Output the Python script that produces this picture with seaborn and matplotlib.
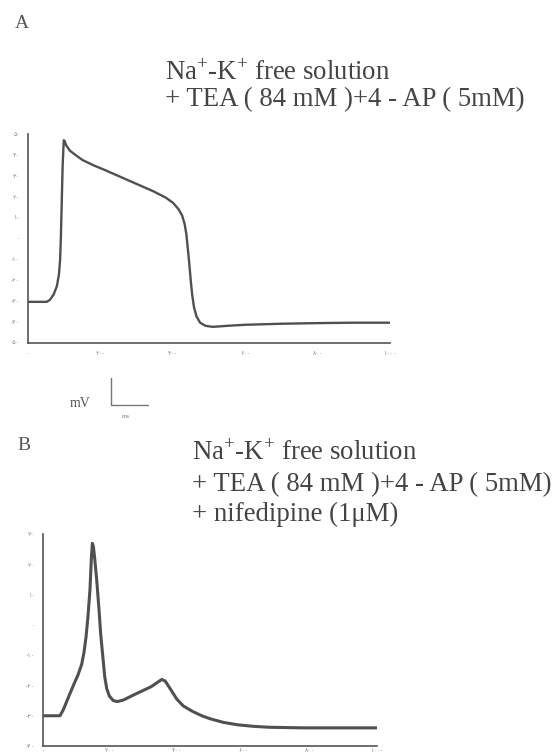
import matplotlib
matplotlib.use("Agg")
import matplotlib.pyplot as plt
from matplotlib.lines import Line2D
import seaborn as sns

# Panel A: Na-K free solution + TEA + 4-AP (time in ms, potential in mV)
time_a = [0, 20, 40, 51, 60, 70, 79, 85, 88, 90, 92, 95, 98, 100, 105, 115,
          130, 150, 180, 208, 254, 300, 346, 380, 400, 415, 425, 432, 437,
          441, 445, 449, 453, 458, 465, 475, 490, 510, 550, 600, 700, 800,
          900, 1000]
volt_a = [-30.5, -30.5, -30.5, -30.5, -29.5, -27, -23, -17, -10, 0, 14, 35,
          47, 46.8, 44.5, 42, 40, 37.5, 35, 33, 29.5, 26, 22.5, 19.5, 17, 14,
          11, 7, 2, -5, -12, -20, -27, -33, -37.5, -40.5, -42, -42.5, -42,
          -41.5, -41, -40.7, -40.5, -40.5]

# Panel B: same + nifedipine
time_b = [0, 25, 50, 60, 73, 90, 104, 115, 122, 128, 134, 140, 144, 147, 150,
          154, 160, 167, 172, 178, 184, 190, 198, 210, 222, 240, 271, 323,
          355, 365, 380, 400, 420, 448, 475, 500, 540, 583, 630, 676, 776,
          876, 1000]
volt_b = [-30, -30, -30, -28, -24.5, -20, -16.5, -13, -9, -4, 3, 12, 22, 27,
          26, 22, 15, 5, -3, -10, -17, -21, -23.5, -25, -25.3, -24.8, -23.1,
          -20.4, -18, -18.5, -21, -24.5, -26.8, -28.6, -30, -31, -32.2, -33,
          -33.5, -33.8, -34, -34, -34]

x_ticks = [0, 200, 400, 600, 800, 1000]
x_labels = ["۰", "۲۰۰", "۴۰۰", "۶۰۰", "۸۰۰", "۱۰۰۰"]
a_yticks = [50, 40, 30, 20, 10, 0, -10, -20, -30, -40, -50]
a_ylabels = ["۵۰", "۴۰", "۳۰", "۲۰", "۱۰", "۰", "-۱۰", "-۲۰", "-۳۰", "-۴۰", "-۵۰"]
b_yticks = [30, 20, 10, 0, -10, -20, -30, -40]
b_ylabels = ["۳۰", "۲۰", "۱۰", "۰", "-۱۰", "-۲۰", "-۳۰", "-۴۰"]

title_a = ["Na$^{+}$-K$^{+}$ free solution", "+ TEA ( 84 mM )+4 - AP ( 5mM)"]
title_b = ["Na$^{+}$-K$^{+}$ free solution", "+ TEA ( 84 mM )+4 - AP ( 5mM)",
           "+ nifedipine (1\u03bcM)"]

sns.set_style("white")
plt.rcParams["font.family"] = ["Liberation Serif", "DejaVu Sans"]
plt.rcParams["mathtext.fontset"] = "custom"
plt.rcParams["mathtext.rm"] = "Liberation Serif"

W, H = 556, 756
fig = plt.figure(figsize=(W / 100, H / 100), dpi=100)

trace_col = "#505050"
axis_col = "#555555"
text_col = "#444444"


def px(x, y):
    return x / W, 1 - y / H


def style_axes(ax, yticks, ylabels, ylim, xpad):
    ax.set_xlim(0, 1000)
    ax.set_ylim(*ylim)
    ax.set_xticks(x_ticks)
    ax.set_xticklabels(x_labels, family="DejaVu Sans", fontsize=4.5, color="#888888")
    ax.set_yticks(yticks)
    ax.set_yticklabels(ylabels, family="DejaVu Sans", fontsize=4.5, color="#888888")
    ax.tick_params(direction="in", length=2.5, width=0.9, color=axis_col, pad=6)
    ax.tick_params(axis="x", pad=xpad)
    for s in ["top", "right"]:
        ax.spines[s].set_visible(False)
    for s in ["left", "bottom"]:
        ax.spines[s].set_color(axis_col)
        ax.spines[s].set_linewidth(1.2)
    ax.set_xlabel("")
    ax.set_ylabel("")
    ax.set_facecolor("none")


# panel A
ax_a = fig.add_axes([28.3 / W, 1 - 342.5 / H, 361.7 / W, 208.5 / H])
sns.lineplot(x=time_a, y=volt_a, ax=ax_a, color=trace_col, lw=1.7, errorbar=None)
style_axes(ax_a, a_yticks, a_ylabels, (-50, 50), 6)

# panel B
ax_b = fig.add_axes([43.3 / W, 1 - 746 / H, 333.7 / W, 211.7 / H])
sns.lineplot(x=time_b, y=volt_b, ax=ax_b, color=trace_col, lw=2.2, errorbar=None)
style_axes(ax_b, b_yticks, b_ylabels, (-40, 30), 1.5)

# panel letters
fig.text(*px(15, 28), "A", fontsize=14, color="#555555")
fig.text(*px(17, 450), "B", fontsize=14, color="#555555")

# condition labels
for txt, yb in zip(title_a, [80, 106.5]):
    fig.text(*px(165, yb), txt, fontsize=19.3, color=text_col, va="baseline")
for txt, yb in zip(title_b, [460, 491, 521]):
    fig.text(*px(192, yb), txt, fontsize=19.3, color=text_col, va="baseline")

# scale bar
fig.add_artist(Line2D([111 / W, 111 / W], [1 - 378 / H, 1 - 405 / H],
                      transform=fig.transFigure, color="#777777", lw=1.0))
fig.add_artist(Line2D([111 / W, 148 / W], [1 - 405 / H, 1 - 405 / H],
                      transform=fig.transFigure, color="#777777", lw=1.0))
fig.text(*px(70, 407), "mV", fontsize=10, color="#555555", va="baseline")
fig.text(*px(122, 418), "ms", fontsize=5, color="#888888", va="baseline")

fig.savefig("out.png", dpi=100, facecolor="white")
